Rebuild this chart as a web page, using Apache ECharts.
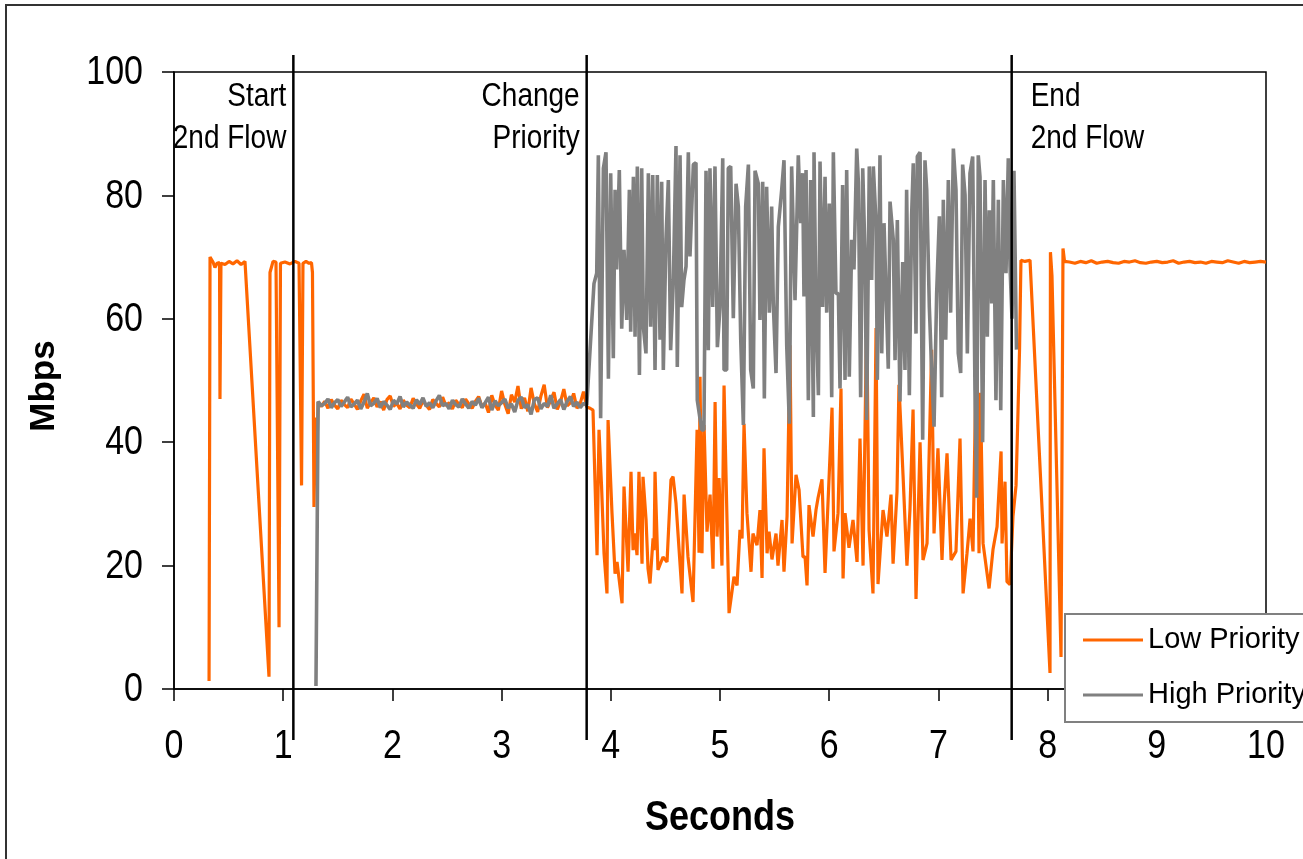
<!DOCTYPE html>
<html>
<head>
<meta charset="utf-8">
<script src="https://cdn.jsdelivr.net/npm/echarts@6/dist/echarts.min.js"></script>
<style>html,body{margin:0;padding:0;background:#fff;}#c{width:1303px;height:859px;}</style>
</head>
<body>
<div id="c"></div>
<script>
// ---------- DATA ----------
const seriesNames = ['Low Priority', 'High Priority'];
const xTicks = [0, 1, 2, 3, 4, 5, 6, 7, 8, 9, 10];
const yTicks = [0, 20, 40, 60, 80, 100];
const xTitle = 'Seconds';
const yTitle = 'Mbps';

// event markers (seconds) and their labels
const eventTimes = [1.093, 3.779, 7.671];
const eventLabels = [['Start', '2nd Flow'], ['Change', 'Priority'], ['End', '2nd Flow']];

// Low priority: first flow alone
const lowStartPts = [[0.321,1.3],[0.330,70.0],[0.357,69.2],[0.375,68.3],[0.394,69.0],[0.417,69.1],[0.421,47.0],[0.430,69.0],[0.467,68.8],[0.504,69.3],[0.540,68.9],[0.577,69.4],[0.614,68.8],[0.650,69.3],[0.668,69.0],[0.870,2.0],[0.879,67.5],[0.907,69.3],[0.934,69.2],[0.962,10.0],[0.975,69.0],[1.016,69.2],[1.062,68.9],[1.108,69.3],[1.145,69.0],[1.168,33.0],[1.181,69.0],[1.209,69.3],[1.236,69.0],[1.259,69.1],[1.268,67.5],[1.282,29.5],[1.296,44.0],[1.305,35.5]];

// equal share period, sampled every 0.03 s from 1.32 s
const flatT0 = 1.32, flatDt = 0.03;
const lowFlat = [46.5,45.8,46.6,45.5,46.9,46.0,45.4,46.8,46.1,45.6,47.0,46.2,45.3,46.7,47.8,45.5,46.4,47.2,45.7,46.6,45.2,46.9,47.5,45.8,46.3,45.4,46.8,46.0,45.6,47.1,46.2,45.5,46.7,46.0,45.3,46.9,46.3,45.7,47.3,45.9,46.4,45.4,46.8,46.1,45.6,47.0,46.2,45.5,46.6,47.4,45.8,46.3,44.8,47.6,46.0,45.2,48.3,46.1,44.6,47.7,46.5,49.1,45.4,47.2,45.0,48.8,46.2,44.9,47.5,49.3,45.6,46.8,48.1,45.3,46.6,48.6,45.9,46.4,47.9,45.5,46.3,48.2,45.7];
const highFlat = [46.6,45.9,46.3,47.0,45.6,46.4,46.9,45.8,46.5,47.3,45.7,46.2,46.8,45.4,46.5,47.9,45.9,46.3,47.1,45.6,46.6,46.0,45.3,46.8,46.2,47.4,45.7,46.5,46.0,45.5,46.9,46.1,47.2,45.8,46.4,45.6,46.7,47.6,45.9,46.3,45.4,46.8,46.1,45.7,47.0,46.2,45.5,46.6,46.0,47.1,45.6,46.4,47.3,45.2,46.7,45.9,46.4,47.0,45.5,46.2,44.9,46.8,47.3,45.6,46.1,44.5,46.9,47.2,45.4,46.3,45.8,47.6,45.5,46.2,46.9,45.3,46.6,47.4,45.8,46.5,45.6,46.3,46.0];

// priority changed
const lowMid = [[3.810,45.5],[3.837,45.2],[3.874,21.7],[3.892,42.0],[3.915,33.0],[3.938,22.0],[3.965,15.5],[3.975,43.6],[4.011,28.5],[4.039,18.7],[4.057,20.6],[4.103,13.9],[4.121,32.8],[4.158,19.0],[4.185,35.2],[4.204,22.5],[4.222,25.2],[4.240,21.7],[4.258,35.2],[4.286,20.3],[4.295,34.4],[4.323,27.4],[4.341,19.5],[4.359,17.1],[4.387,24.4],[4.396,22.5],[4.405,35.2],[4.432,19.3],[4.478,21.4],[4.515,20.6],[4.551,33.9],[4.570,34.4],[4.597,30.1],[4.652,15.5],[4.671,31.5],[4.707,21.4],[4.753,14.1],[4.790,42.0],[4.808,22.1],[4.817,50.6],[4.835,22.0],[4.854,42.8],[4.881,25.5],[4.909,31.5],[4.936,19.5],[4.955,46.5],[4.973,24.7],[4.991,34.2],[5.018,20.0],[5.037,49.2],[5.083,12.3],[5.128,18.2],[5.156,16.8],[5.183,25.8],[5.202,24.4],[5.220,43.0],[5.247,28.5],[5.284,19.0],[5.302,25.2],[5.339,23.3],[5.366,29.0],[5.385,18.0],[5.403,39.0],[5.431,22.0],[5.449,25.5],[5.476,21.0],[5.513,25.2],[5.531,20.0],[5.568,27.4],[5.586,19.0],[5.614,28.0],[5.641,55.7],[5.660,23.6],[5.696,34.7],[5.724,32.3],[5.760,21.4],[5.779,21.4],[5.797,16.8],[5.815,29.8],[5.852,24.7],[5.879,29.0],[5.898,31.0],[5.934,34.0],[5.962,18.8],[5.980,18.5],[6.026,45.6],[6.044,22.3],[6.081,28.5],[6.108,48.7],[6.127,17.9],[6.145,28.5],[6.181,22.9],[6.218,27.4],[6.255,20.6],[6.282,40.6],[6.310,20.0],[6.343,60.6],[6.365,25.8],[6.401,15.5],[6.429,58.5],[6.447,17.0],[6.493,29.0],[6.529,24.7],[6.566,31.5],[6.585,20.3],[6.621,32.0],[6.639,49.3],[6.676,34.7],[6.712,20.0],[6.740,29.2],[6.768,45.3],[6.795,14.6],[6.832,40.0],[6.859,20.9],[6.896,23.6],[6.938,55.0],[6.960,25.2],[6.996,39.0],[7.033,20.9],[7.052,29.8],[7.079,38.2],[7.116,20.9],[7.161,22.3],[7.198,40.6],[7.226,15.5],[7.262,22.0],[7.290,27.6],[7.317,22.3],[7.350,58.5],[7.372,22.0],[7.385,48.0],[7.409,23.6],[7.464,16.3],[7.500,22.6],[7.537,26.3],[7.574,38.5],[7.583,23.6],[7.610,33.6],[7.628,17.4],[7.656,16.9]];
const highMid = [[3.794,46.0],[3.846,65.7],[3.871,67.4],[3.886,86.5],[3.907,43.9],[3.932,84.4],[3.956,87.0],[3.978,50.3],[3.999,83.6],[4.023,53.6],[4.039,80.9],[4.054,68.0],[4.078,84.1],[4.100,58.4],[4.121,71.2],[4.146,59.8],[4.170,80.9],[4.182,57.9],[4.207,83.0],[4.222,57.1],[4.243,84.7],[4.262,50.9],[4.283,84.4],[4.298,58.7],[4.322,54.4],[4.344,83.6],[4.365,58.7],[4.384,83.3],[4.405,51.7],[4.426,83.3],[4.451,56.6],[4.466,82.2],[4.481,51.7],[4.505,72.8],[4.527,82.5],[4.548,54.9],[4.573,66.3],[4.597,88.0],[4.609,52.2],[4.634,86.5],[4.649,61.9],[4.670,66.3],[4.689,68.5],[4.710,87.0],[4.725,70.1],[4.756,85.0],[4.780,85.3],[4.792,46.8],[4.832,42.0],[4.853,42.0],[4.872,84.0],[4.893,54.9],[4.908,84.4],[4.933,61.9],[4.954,84.7],[4.976,55.4],[5.000,61.9],[5.025,86.0],[5.037,51.7],[5.061,51.7],[5.076,84.4],[5.098,84.7],[5.122,60.1],[5.147,81.9],[5.168,78.2],[5.190,56.6],[5.214,42.8],[5.235,78.2],[5.260,85.0],[5.281,51.7],[5.305,48.7],[5.321,84.0],[5.351,81.9],[5.366,59.8],[5.391,82.2],[5.406,47.1],[5.427,81.4],[5.452,61.0],[5.473,78.2],[5.488,62.5],[5.513,51.2],[5.534,74.9],[5.565,80.9],[5.586,85.7],[5.611,55.7],[5.635,43.0],[5.656,84.7],[5.687,63.0],[5.717,86.5],[5.739,75.5],[5.757,83.6],[5.769,63.6],[5.788,84.1],[5.809,46.8],[5.830,82.5],[5.855,44.1],[5.861,87.0],[5.879,61.4],[5.901,47.6],[5.916,85.5],[5.940,61.9],[5.962,83.0],[5.977,61.0],[6.001,78.7],[6.023,47.3],[6.038,87.0],[6.062,64.1],[6.084,64.1],[6.099,48.7],[6.123,81.7],[6.145,50.1],[6.160,84.1],[6.184,50.6],[6.206,72.8],[6.227,68.0],[6.252,87.6],[6.267,82.2],[6.288,47.3],[6.307,84.4],[6.328,70.3],[6.343,43.6],[6.367,84.7],[6.389,66.3],[6.404,84.7],[6.429,75.5],[6.441,50.1],[6.465,86.5],[6.481,54.4],[6.502,75.5],[6.520,75.5],[6.541,51.9],[6.557,79.0],[6.587,72.8],[6.603,53.3],[6.624,76.0],[6.648,46.6],[6.673,69.2],[6.694,51.7],[6.709,80.9],[6.734,47.6],[6.755,76.8],[6.770,85.2],[6.795,57.6],[6.807,86.3],[6.832,87.0],[6.856,40.4],[6.877,85.7],[6.893,80.9],[6.917,61.9],[6.938,51.7],[6.960,42.5],[6.984,64.1],[7.009,76.6],[7.030,47.3],[7.045,79.3],[7.067,56.6],[7.091,82.5],[7.112,61.0],[7.137,87.6],[7.161,80.9],[7.182,54.4],[7.204,51.2],[7.222,85.0],[7.244,80.1],[7.265,54.4],[7.289,83.6],[7.314,86.3],[7.335,48.4],[7.350,31.0],[7.365,86.5],[7.381,83.0],[7.405,40.0],[7.427,82.5],[7.448,57.1],[7.466,77.6],[7.488,62.5],[7.503,82.5],[7.527,46.8],[7.549,79.3],[7.571,45.2],[7.595,82.5],[7.619,67.4],[7.640,86.0],[7.656,68.5],[7.674,60.0],[7.692,84.0],[7.715,55.0]];
const highStartPts = [[1.300,0.5]];

// second flow ended
const lowEnd = [[7.683,28.0],[7.711,33.0],[7.729,45.0],[7.743,55.0],[7.756,69.5],[7.793,69.3],[7.839,69.5],[8.022,2.6],[8.026,70.8],[8.040,67.0],[8.123,5.2],[8.141,71.4],[8.155,69.3]];
const tailT0 = 8.20, tailDt = 0.05;
const lowTail = [69.2,69.0,69.3,69.1,69.4,69.0,69.2,69.3,69.1,69.0,69.3,69.2,69.4,69.1,69.0,69.2,69.3,69.1,69.2,69.4,69.0,69.2,69.3,69.1,69.2,69.0,69.3,69.2,69.1,69.4,69.2,69.0,69.3,69.1,69.2,69.3,69.2];

// ---------- BUILD ----------
const lowData = [].concat(
  lowStartPts,
  lowFlat.map((v, i) => [+(flatT0 + i * flatDt).toFixed(3), v]),
  lowMid,
  lowEnd,
  lowTail.map((v, i) => [+(tailT0 + i * tailDt).toFixed(3), v])
);
const highData = [].concat(
  highStartPts,
  highFlat.map((v, i) => [+(flatT0 + i * flatDt).toFixed(3), v]),
  highMid
);

const SANS = '"Liberation Sans", Arial, sans-serif';
const ORANGE = '#FF6600', GRAY = '#808080';
const STRETCH = 1.2; // reference text is drawn taller than wide

const chart = echarts.init(document.getElementById('c'), null, { renderer: 'canvas' });
const option = {
  animation: false,
  backgroundColor: '#ffffff',
  grid: { left: 174, top: 72, width: 1092, height: 617, show: true, borderColor: '#000', borderWidth: 1.5, backgroundColor: 'transparent', outerBoundsMode: 'none', containLabel: false },
  xAxis: {
    type: 'value', min: 0, max: 10, interval: 1,
    axisLine: { show: true, onZero: false, lineStyle: { color: '#000', width: 1.5 } },
    axisTick: { show: true, inside: false, length: 12, lineStyle: { color: '#000', width: 1.5 } },
    splitLine: { show: false },
    axisLabel: { show: false }
  },
  yAxis: {
    type: 'value', min: 0, max: 100, interval: 20,
    axisLine: { show: true, lineStyle: { color: '#000', width: 1.5 } },
    axisTick: { show: true, inside: false, length: 12, lineStyle: { color: '#000', width: 1.5 } },
    splitLine: { show: false },
    axisLabel: { show: false }
  },
  legend: {
    orient: 'vertical', left: 1065, top: 614,
    padding: [6, 40, 7, 18], itemGap: 15, itemWidth: 60, itemHeight: 3, icon: 'rect',
    backgroundColor: '#fff', borderColor: '#808080', borderWidth: 2, borderRadius: 0,
    textStyle: { fontSize: 29, fontFamily: SANS, color: '#000', lineHeight: 40 },
    data: seriesNames
  },
  series: [
    { name: seriesNames[0], type: 'line', data: lowData, showSymbol: false, symbol: 'none', lineStyle: { color: ORANGE, width: 3.2 }, itemStyle: { color: ORANGE }, z: 2 },
    { name: seriesNames[1], type: 'line', data: highData, showSymbol: false, symbol: 'none', lineStyle: { color: GRAY, width: 3.6 }, itemStyle: { color: GRAY }, z: 3 }
  ]
};
chart.setOption(option);

// text and event lines placed through the axis scales
const graphics = [
  { type: 'rect', shape: { x: 6, y: 5, width: 1400, height: 900 }, style: { fill: 'none', stroke: '#333', lineWidth: 2 }, silent: true, z: 0 }
];
function addText(text, x, y, size, opts) {
  graphics.push(Object.assign({
    type: 'text', x: x, y: y, scaleY: STRETCH, z: 100,
    style: { text: text, fontSize: size, fontFamily: SANS, fill: '#000', align: 'center', verticalAlign: 'middle' }
  }, opts || {}));
}
// y tick labels
yTicks.forEach(v => {
  const py = chart.convertToPixel({ gridIndex: 0 }, [0, v])[1];
  graphics.push({ type: 'text', x: 143, y: py + 1, scaleY: STRETCH, z: 100,
    style: { text: String(v), fontSize: 34, fontFamily: SANS, fill: '#000', align: 'right', verticalAlign: 'middle' } });
});
// x tick labels
xTicks.forEach(v => {
  const px = chart.convertToPixel({ gridIndex: 0 }, [v, 0])[0];
  addText(String(v), px, 747, 34);
});
// axis titles
addText(xTitle, 720, 818, 36, { style: { text: xTitle, fontSize: 36, fontWeight: 'bold', fontFamily: SANS, fill: '#000', align: 'center', verticalAlign: 'middle' } });
graphics.push({ type: 'text', x: 44, y: 386, rotation: Math.PI / 2, z: 100,
  style: { text: yTitle, fontSize: 35, fontWeight: 'bold', fontFamily: SANS, fill: '#000', align: 'center', verticalAlign: 'middle' } });

eventTimes.forEach((t, k) => {
  const px = chart.convertToPixel({ gridIndex: 0 }, [t, 0])[0];
  graphics.push({ type: 'line', shape: { x1: px, y1: 55, x2: px, y2: 740 }, style: { stroke: '#000', lineWidth: 2.5 }, z: 100 });
  const leftSide = k < 2;
  const tx = leftSide ? px - 7 : px + 19;
  const align = leftSide ? 'right' : 'left';
  eventLabels[k].forEach((line, j) => {
    graphics.push({ type: 'text', x: tx, y: 97 + j * 42, scaleY: STRETCH, z: 100,
      style: { text: line, fontSize: 28, fontFamily: SANS, fill: '#000', align: align, verticalAlign: 'middle' } });
  });
});
chart.setOption({ graphic: graphics });
</script>
</body>
</html>
